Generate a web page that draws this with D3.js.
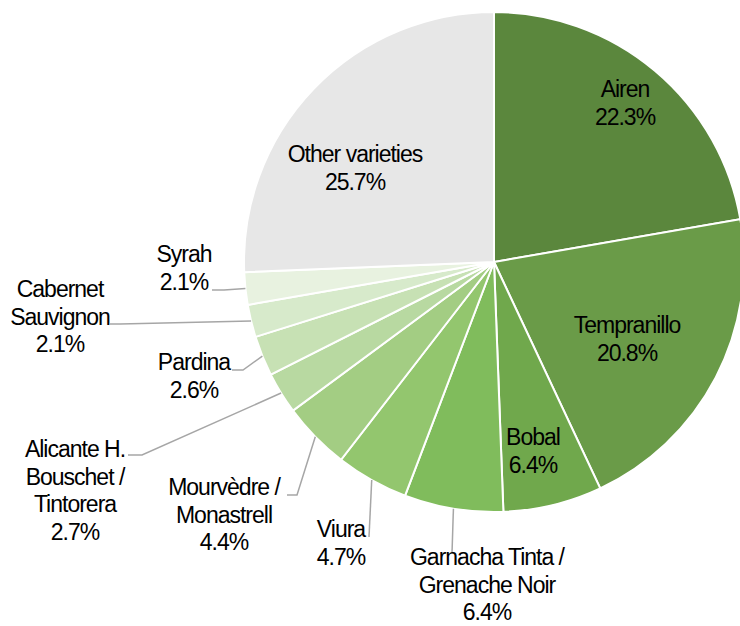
<!DOCTYPE html>
<html>
<head>
<meta charset="utf-8">
<script src="https://cdn.jsdelivr.net/npm/d3@7"></script>
<style>
  body { margin: 0; background: #fff; }
  text { font-family: "Liberation Sans", Arial, sans-serif; font-size: 23px; letter-spacing: -1px; fill: #000; }
</style>
</head>
<body>
<div id="my_dataviz"></div>
<script>
// data, clockwise from 12 o'clock
var varieties = ["Airen", "Tempranillo", "Bobal", "Garnacha Tinta / Grenache Noir", "Viura",
                 "Mourvèdre / Monastrell", "Alicante H. Bouschet / Tintorera", "Pardina",
                 "Cabernet Sauvignon", "Syrah", "Other varieties"];
var shares = [22.3, 20.8, 6.4, 6.4, 4.7, 4.4, 2.7, 2.6, 2.1, 2.1, 25.7];
var labelLines = [
  ["Airen"], ["Tempranillo"], ["Bobal"], ["Garnacha Tinta /", "Grenache Noir"], ["Viura"],
  ["Mourvèdre /", "Monastrell"], ["Alicante H.", "Bouschet /", "Tintorera"], ["Pardina"],
  ["Cabernet", "Sauvignon"], ["Syrah"], ["Other varieties"]
];
var colors = ["#5b873d", "#6a9b48", "#70a84c", "#80bc5c", "#93c66e", "#a3cd83",
              "#b8d9a1", "#c7e1b4", "#d7eacb", "#e8f2e0", "#e7e7e7"];

// label placement: x centre, first baseline; leader = [text end, elbow] or null (inside labels)
var labelPos = [
  {x: 625, y: 97,  leader: null},
  {x: 627, y: 333, leader: null},
  {x: 533, y: 445, leader: null},
  {x: 487, y: 565, leader: [[452, 553], [452, 553]]},
  {x: 341, y: 537, leader: [[369, 537], [369, 537]]},
  {x: 224, y: 495, leader: [[287, 495], [297, 495]]},
  {x: 75,  y: 457, leader: [[128, 455], [142, 455]]},
  {x: 194, y: 370, leader: [[232, 370], [243, 370]]},
  {x: 60,  y: 297, leader: [[110, 324], [120, 324]]},
  {x: 184, y: 262, leader: [[212, 290], [224, 290]]},
  {x: 355, y: 162, leader: null}
];

var width = 740, height = 626,
    cx = 494, cy = 262, radius = 250,
    lineH = 27.5;

var svg = d3.select("#my_dataviz")
  .append("svg")
    .attr("width", width)
    .attr("height", height);

var data = varieties.map(function(v, i) { return {name: v, value: shares[i], i: i}; });

var pie = d3.pie()
  .sort(null)
  .value(function(d) { return d.value; });

var arc = d3.arc()
  .innerRadius(0)
  .outerRadius(radius);

var arcs = pie(data);

var g = svg.append("g")
  .attr("transform", "translate(" + cx + "," + cy + ")");

// slices
g.selectAll("path")
  .data(arcs)
  .enter()
  .append("path")
    .attr("d", arc)
    .attr("fill", function(d) { return colors[d.data.i]; })
    .attr("stroke", "#fff")
    .attr("stroke-width", 2);

// leader lines from the slice edge at mid angle
arcs.forEach(function(d) {
  var p = labelPos[d.data.i];
  if (!p.leader) return;
  var mid = (d.startAngle + d.endAngle) / 2;
  var ex = cx + radius * Math.sin(mid),
      ey = cy - radius * Math.cos(mid);
  var pts = [p.leader[0], p.leader[1], [ex, ey]];
  svg.append("path")
    .attr("d", d3.line()(pts))
    .attr("fill", "none")
    .attr("stroke", "#a6a6a6")
    .attr("stroke-width", 1.5);
});

// labels
arcs.forEach(function(d) {
  var i = d.data.i, p = labelPos[i];
  var lines = labelLines[i].concat([d3.format(".1f")(shares[i]) + "%"]);
  var t = svg.append("text")
    .attr("text-anchor", "middle");
  lines.forEach(function(s, k) {
    t.append("tspan")
      .attr("x", p.x)
      .attr("y", p.y + k * lineH)
      .text(s);
  });
});
</script>
</body>
</html>
